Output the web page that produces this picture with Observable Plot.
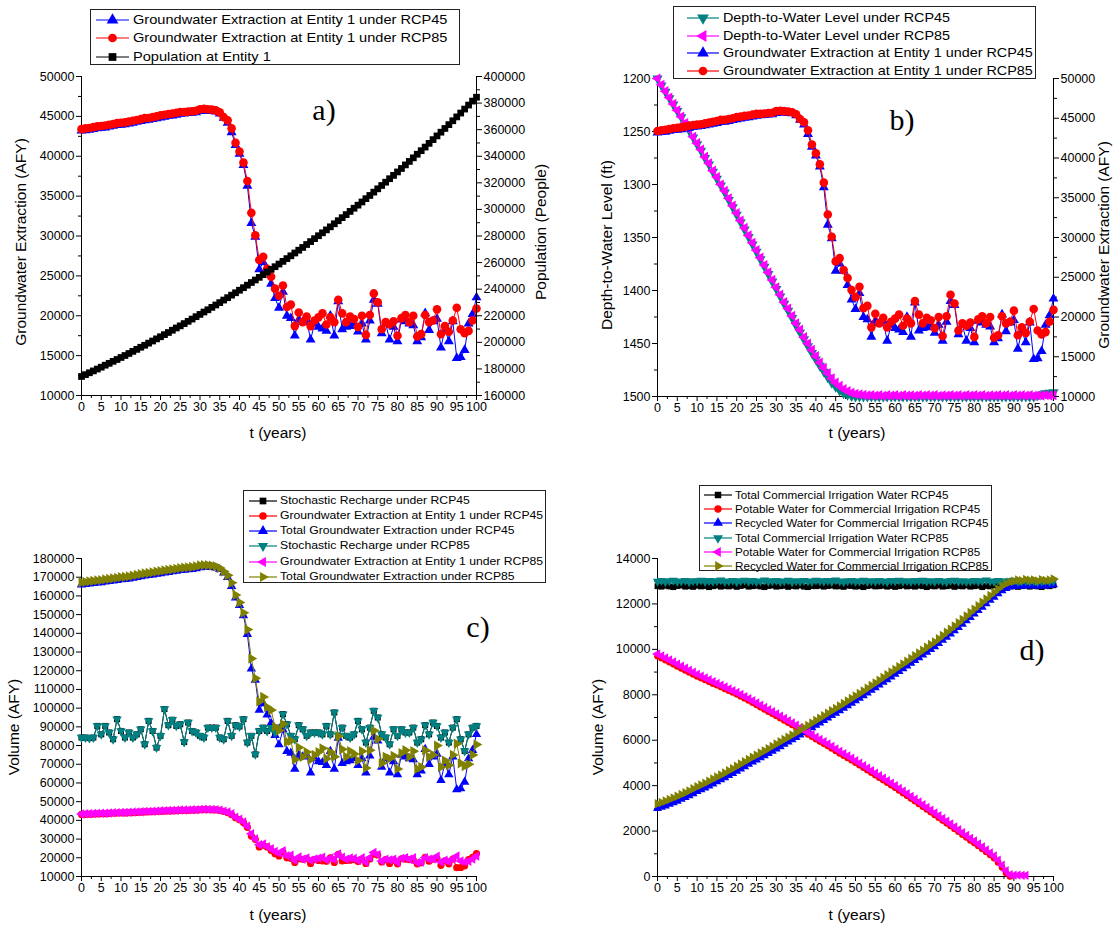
<!DOCTYPE html>
<html>
<head>
<meta charset="utf-8">
<script src="https://cdn.jsdelivr.net/npm/d3@7"></script>
<script src="https://cdn.jsdelivr.net/npm/@observablehq/plot@0.6"></script>
<style>
  html, body { margin: 0; padding: 0; background: #fff; }
  #page { position: relative; width: 1116px; height: 926px; overflow: hidden; font-family: Arial, "Liberation Sans", sans-serif; color: #000; }
  .layer { position: absolute; }
  .atitle { position: absolute; font-size: 15.5px; white-space: nowrap; transform: translate(-50%, -50%); }
  .vtitle { position: absolute; font-size: 15.5px; white-space: nowrap; transform: translate(-50%, -50%) rotate(-90deg); }
  .plabel { position: absolute; font-family: "Liberation Serif", "DejaVu Serif", serif; font-size: 30px; transform: translate(-50%, -50%); white-space: nowrap; }
  .legend { position: absolute; border: 1px solid #222; background: #fff; box-sizing: border-box; }
  .legtext { position: absolute; white-space: nowrap; transform-origin: 0 50%; line-height: 1; }
</style>
</head>
<body>
<div id="page"></div>
<script>
// ---------------- DATA (t = 0..100 years) ----------------
const years = d3.range(0, 101);

// Groundwater extraction at Entity 1 (AFY)
const gwEntity1RCP45 = [
  43200,43250,43300,43400,43500,43550,43600,43700,43800,43900,
  43950,44000,44100,44200,44300,44400,44500,44550,44650,44750,
  44850,44950,45050,45100,45200,45300,45350,45400,45450,45500,
  45650,45700,45700,45650,45600,45350,44800,44200,43000,41400,
  40300,38900,36300,31600,29900,25800,26700,25800,24000,22200,
  21000,23000,20000,19700,17500,19500,19200,19500,17000,19000,
  18600,18400,18100,20000,17500,21800,18300,18600,18700,19000,
  18000,19000,17000,19400,22000,21500,17800,19000,17000,18600,
  16800,19500,19300,19000,18800,16800,17300,20300,18200,19300,
  19600,16000,18300,16800,19300,14700,14800,15700,19000,20200,
  22300];
const gwEntity1RCP85 = [
  43400,43500,43550,43650,43750,43800,43850,43950,44050,44150,
  44200,44250,44350,44450,44550,44650,44800,44800,44900,45000,
  45150,45200,45300,45350,45450,45550,45550,45600,45650,45700,
  45900,45950,45900,45850,45750,45500,44900,44500,43500,41700,
  40600,39200,36900,32900,30100,27000,27400,25900,24900,23400,
  22500,23800,21100,21400,18700,20400,19200,19900,18700,19400,
  19800,20300,18900,19800,19200,22000,20300,19200,19900,19600,
  18600,20000,17600,20100,22800,21700,18300,19200,18900,19300,
  17500,19700,20100,19200,20000,17400,17700,20100,19200,19400,
  20800,17700,18700,18000,19400,21000,18300,17800,18100,19400,
  20900];

// Population at Entity 1 (people)
const population = [
  174300,175700,177100,178500,179900,181300,182800,184200,185700,187100,
  188600,190100,191600,193200,194700,196300,197800,199400,201000,202600,
  204200,205800,207400,209100,210800,212400,214100,215800,217500,219300,
  221000,222800,224500,226300,228100,229900,231800,233600,235500,237300,
  239200,241100,243000,245000,246900,248900,250900,252900,254900,256900,
  258900,260900,263000,265100,267200,269300,271400,273600,275800,278000,
  280200,282400,284600,286900,289200,291500,293800,296100,298500,300900,
  303200,305600,308100,310500,313000,315500,318000,320500,323100,325600,
  328200,330800,333500,336100,338800,341500,344200,346900,349700,352500,
  355300,358100,360900,363800,366700,369600,372500,375500,378500,381500,
  384400];

// Depth-to-water level (ft)
const depthRCP45 = [
  1200,1206.5,1212.5,1218.5,1224.5,1230.5,1236.5,1243,1249,1255.5,
  1262,1268,1275,1281,1288,1294.5,1301,1307.5,1314.5,1321.5,
  1328.5,1335.5,1342.5,1349.5,1356.5,1363.5,1370.5,1377.5,1384.5,1391.5,
  1398.5,1405.5,1412.5,1419,1426,1433,1439.5,1446,1452.5,1459,
  1465,1471,1476.5,1482,1487,1491,1494.5,1497,1498.5,1499.5,
  1500,1500,1500,1500,1500,1500,1500,1500,1500,1500,
  1500,1500,1500,1500,1500,1500,1500,1500,1500,1500,
  1500,1500,1500,1500,1500,1500,1500,1500,1500,1500,
  1500,1500,1500,1500,1500,1500,1500,1500,1500,1500,
  1500,1500,1500,1500,1500,1500,1499,1498,1497,1496.5,
  1496];
const depthRCP85 = [
  1200,1206,1212,1218,1224,1230,1236,1242,1248,1255,
  1261,1267,1274,1280,1287,1293,1300,1306,1313,1320,
  1327,1334,1341,1348,1355,1362,1369,1376,1383,1390,
  1397,1404,1411,1417,1424,1431,1437,1444,1450,1456,
  1462,1468,1473,1478,1483,1487,1490,1493,1495,1496.5,
  1497.5,1498,1498.5,1499,1498.6,1499.2,1498.8,1499.3,1498.7,1499.1,
  1498.8,1499.3,1498.7,1499.2,1498.9,1499.3,1498.7,1499.1,1498.8,1499.2,
  1498.7,1499.3,1498.9,1499.1,1498.6,1499.2,1498.8,1499.3,1498.7,1499.1,
  1498.8,1499.2,1498.7,1499.3,1498.9,1499.1,1498.7,1499.2,1498.8,1499.3,
  1498.7,1499.1,1498.8,1499.2,1498.7,1499.3,1498.9,1499.1,1498.7,1499.2,
  1498.8];

// Stochastic recharge (AFY) — RCP45 and RCP85 coincide
const rechargeRCP45 = [
  84300,84300,84000,84300,90500,86000,90500,87000,83400,94100,
  87800,84300,87000,84300,86000,88700,80700,93200,87800,78900,
  85200,99500,90900,93800,90500,91400,81900,92300,87800,87000,
  85200,84300,89600,89600,89600,84300,83400,93200,85200,90900,
  90200,94100,81600,85200,75300,87800,89600,87800,89600,87000,
  89600,96800,91400,85200,83400,90900,88700,85200,87000,87000,
  87000,86000,90500,86000,97700,85200,89600,85200,84300,86000,
  93200,88700,81600,89600,98600,95000,86000,84300,80700,88700,
  85200,88700,87000,87000,89600,81600,83400,90900,86000,92300,
  90500,84300,87000,81600,89600,94100,83400,77100,86000,89600,
  90500];
const rechargeRCP85 = rechargeRCP45.slice();

// Total groundwater extraction (AFY)
const totalGwRCP45 = [
  166000,166200,166500,166800,167000,167200,167500,167800,168100,168400,
  168700,168900,169200,169600,170000,170400,170800,171000,171300,171700,
  172000,172400,172700,173000,173300,173700,173900,174100,174300,174600,
  175200,175400,175500,175300,175000,174200,172300,170000,165200,159000,
  155000,149500,139500,121000,115000,99000,102500,96500,92000,85500,
  80500,88500,77000,76000,67500,75000,74000,75000,65500,73000,
  71500,71000,69500,77000,67500,84000,70500,71500,72000,73000,
  69500,73000,65500,74500,84500,82500,68500,73000,65500,71500,
  64500,75000,74000,73000,72500,64500,66500,78000,70000,74000,
  75500,61500,70500,64500,74000,56500,57000,60500,73000,77500,
  86000];
const totalGwRCP85 = [
  167200,167500,167800,168100,168300,168500,168800,169100,169400,169700,
  170000,170200,170500,170900,171300,171700,172100,172300,172600,173000,
  173300,173600,173900,174200,174500,174900,175100,175300,175500,175800,
  176300,176500,176400,176200,175800,174900,173000,171000,167000,160500,
  156500,151000,142000,126500,116000,103500,106000,100500,99000,90000,
  88000,91500,82000,82500,72500,79000,74000,76500,72500,75000,
  76500,78500,73000,76500,74000,85000,78000,74000,77000,75500,
  72000,77000,68000,77500,88000,83500,70500,74000,73000,74500,
  67500,76000,77500,74000,77000,67500,68500,77500,74000,75000,
  80000,68500,72000,69500,75000,81000,70500,69000,70000,75000,
  80500];

// Commercial irrigation (AFY)
const irrTotalRCP45 = [
  12780,12760,12800,12770,12740,12790,12810,12760,12780,12750,
  12800,12770,12790,12740,12780,12810,12760,12790,12770,12800,
  12750,12790,12820,12760,12780,12800,12770,12740,12790,12810,
  12760,12780,12800,12750,12790,12770,12810,12760,12740,12790,
  12780,12800,12760,12790,12810,12770,12780,12750,12800,12790,
  12760,12780,12740,12790,12810,12770,12780,12800,12760,12790,
  12750,12780,12810,12770,12790,12760,12800,12780,12740,12790,
  12770,12810,12760,12780,12800,12750,12790,12770,12810,12760,
  12780,12800,12740,12790,12770,12810,12760,12780,12800,12770,
  12790,12750,12780,12810,12760,12790,12770,12740,12800,12780,
  12820];
const irrTotalRCP85 = [
  12990,13020,12970,13010,13040,12980,13000,13030,12970,13010,
  13000,13040,12980,13020,12990,13010,13050,12980,13000,13030,
  12970,13010,13040,12990,13020,12980,13000,13050,12990,13010,
  13030,12980,13000,13040,12970,13010,12990,13020,13000,12980,
  13040,13010,12990,13020,12980,13050,13000,12970,13010,13030,
  12990,13000,13040,12980,13010,12990,13030,13000,12970,13020,
  13000,13040,12990,13010,12980,13020,13000,13040,12990,13010,
  12980,13030,13000,12970,13020,13040,12990,13010,12980,13000,
  13030,12990,13010,13050,13000,12980,13020,13000,12990,13010,
  13040,12980,13000,13020,12990,13010,12970,13000,13030,12990,
  13010];
const potableRCP45 = [
  9700,9610,9520,9430,9340,9250,9160,9070,8980,8890,
  8810,8730,8650,8570,8490,8420,8340,8260,8180,8100,
  8020,7930,7840,7750,7650,7550,7450,7350,7250,7160,
  7070,6970,6870,6770,6670,6570,6460,6350,6250,6150,
  6040,5940,5840,5740,5640,5530,5420,5320,5220,5120,
  5010,4900,4790,4680,4570,4460,4350,4240,4130,4020,
  3910,3790,3670,3550,3430,3310,3190,3070,2950,2830,
  2710,2590,2460,2340,2220,2090,1970,1840,1720,1590,
  1470,1340,1210,1080,950,800,620,400,150,0];
const potableRCP85 = [
  9800,9710,9620,9530,9440,9350,9260,9170,9080,8990,
  8900,8820,8740,8660,8580,8500,8420,8340,8260,8180,
  8100,8010,7920,7830,7740,7640,7540,7440,7340,7250,
  7160,7060,6960,6860,6760,6660,6550,6440,6340,6240,
  6130,6030,5930,5830,5730,5620,5510,5410,5310,5210,
  5100,4990,4880,4770,4660,4550,4440,4330,4220,4110,
  4000,3880,3760,3640,3520,3400,3280,3160,3040,2920,
  2800,2680,2550,2430,2310,2180,2060,1930,1810,1680,
  1560,1430,1300,1170,1040,900,720,500,250,80,
  60,60,50,50];
const recycledRCP45 = [
  3000,3050,3110,3180,3250,3320,3400,3480,3560,3650,
  3740,3820,3900,3990,4080,4170,4260,4350,4450,4540,
  4640,4740,4840,4940,5040,5130,5230,5320,5420,5520,
  5620,5720,5820,5920,6020,6120,6230,6340,6440,6550,
  6660,6760,6870,6980,7090,7190,7300,7410,7520,7630,
  7740,7850,7960,8080,8200,8310,8430,8550,8670,8790,
  8910,9030,9150,9270,9390,9510,9630,9750,9880,10000,
  10120,10260,10400,10540,10680,10820,10960,11110,11260,11410,
  11560,11710,11860,12010,12160,12300,12450,12580,12680,12750,
  12780,12800,12780,12820,12790,12810,12780,12830,12790,12810,
  12850];
const recycledRCP85 = [
  3200,3260,3320,3390,3460,3530,3610,3690,3770,3860,
  3950,4030,4110,4200,4290,4380,4470,4560,4660,4750,
  4850,4950,5050,5150,5250,5340,5440,5530,5630,5730,
  5830,5930,6030,6130,6230,6330,6440,6550,6650,6760,
  6870,6970,7080,7190,7300,7400,7510,7620,7730,7840,
  7950,8060,8170,8290,8410,8520,8640,8760,8880,9000,
  9120,9240,9360,9480,9600,9720,9840,9960,10090,10210,
  10330,10470,10610,10750,10890,11030,11170,11320,11470,11620,
  11770,11920,12070,12220,12370,12510,12660,12790,12890,12960,
  13000,13050,13020,13080,13040,13060,13010,13070,13030,13050,
  13100];

// Axis ticks
const xTicks = d3.range(0, 101, 5);
const xMinor = d3.range(2.5, 100, 5);
const aLeftTicks = d3.range(10000, 50001, 5000);
const aRightTicks = d3.range(160000, 400001, 20000);
const bLeftTicks = d3.range(1200, 1501, 50);
const bRightTicks = d3.range(10000, 50001, 5000);
const cLeftTicks = d3.range(10000, 180001, 10000);
const dLeftTicks = d3.range(0, 14001, 2000);

// Legend labels
const legendA = ["Groundwater Extraction at Entity 1 under RCP45", "Groundwater Extraction at Entity 1 under RCP85", "Population at Entity 1"];
const legendB = ["Depth-to-Water Level under RCP45", "Depth-to-Water Level under RCP85", "Groundwater Extraction at Entity 1 under RCP45", "Groundwater Extraction at Entity 1 under RCP85"];
const legendC = ["Stochastic Recharge under RCP45", "Groundwater Extraction at Entity 1 under RCP45", "Total Groundwater Extraction under RCP45", "Stochastic Recharge under RCP85", "Groundwater Extraction at Entity 1 under RCP85", "Total Groundwater Extraction under RCP85"];
const legendD = ["Total Commercial Irrigation Water RCP45", "Potable Water for Commercial Irrigation RCP45", "Recycled Water for Commercial Irrigation RCP45", "Total Commercial Irrigation Water RCP85", "Potable Water for Commercial Irrigation RCP85", "Recycled Water for Commercial Irrigation RCP85"];

// ---------------- DRAWING ----------------
const C = { black: "#000000", red: "#ff0000", blue: "#0000ff", teal: "#008080", magenta: "#ff00ff", olive: "#808000" };
const SHAPE = {
  square: { symbol: "square", rotate: 0, d3: d3.symbolSquare },
  circle: { symbol: "circle", rotate: 0, d3: d3.symbolCircle },
  up: { symbol: "triangle", rotate: 0, d3: d3.symbolTriangle },
  down: { symbol: "triangle", rotate: 180, d3: d3.symbolTriangle },
  left: { symbol: "triangle", rotate: -90, d3: d3.symbolTriangle },
  right: { symbol: "triangle", rotate: 90, d3: d3.symbolTriangle }
};
const page = document.getElementById("page");
const fmt = d => String(d);

function pts(arr) { return arr.map((v, i) => ({ t: years[i], v })); }

function series(arr, color, shape, r) {
  const d = pts(arr);
  const s = SHAPE[shape];
  return [
    Plot.line(d, { x: "t", y: "v", stroke: color, strokeWidth: 1 }),
    Plot.dot(d, { x: "t", y: "v", symbol: s.symbol, rotate: s.rotate, fill: color, stroke: "none", r })
  ];
}

function layer(o) {
  const chart = Plot.plot({
    width: o.w, height: o.h,
    marginLeft: o.ml, marginRight: o.mr, marginTop: o.mt, marginBottom: o.mb,
    x: { domain: [0, 100], axis: o.overlay ? null : undefined },
    y: { domain: o.ydomain, reverse: !!o.reverse },
    style: { background: "transparent", overflow: "visible", fontFamily: "Arial, 'Liberation Sans', sans-serif", fontSize: "12.5px", color: "#000" },
    marks: o.marks
  });
  chart.classList.add("layer");
  chart.style.left = o.x + "px";
  chart.style.top = o.y + "px";
  page.appendChild(chart);
}

function xAxisMarks() {
  return [
    Plot.axisX({ ticks: xTicks, tickSize: 5, tickPadding: 2, tickFormat: fmt, label: null, fontSize: 12.5 }),
    Plot.axisX({ ticks: xMinor, tickSize: 3, tickFormat: () => "", label: null })
  ];
}
function yAxisMarks(anchor, ticks, minor) {
  const m = [Plot.axisY({ anchor, ticks, tickSize: 5, tickPadding: 2, tickFormat: fmt, label: null, fontSize: 12.5 })];
  if (minor) m.push(Plot.axisY({ anchor, ticks: minor, tickSize: 3, tickFormat: () => "", label: null }));
  return m;
}
function mids(ticks) { return ticks.slice(0, -1).map((v, i) => (v + ticks[i + 1]) / 2); }

function text(cls, txt, x, y, extra) {
  const el = document.createElement("div");
  el.className = cls; el.textContent = txt;
  el.style.left = x + "px"; el.style.top = y + "px";
  if (extra) Object.assign(el.style, extra);
  page.appendChild(el);
}

function legend(o) {
  const box = document.createElement("div");
  box.className = "legend";
  Object.assign(box.style, { left: o.x + "px", top: o.y + "px", width: o.w + "px", height: o.h + "px" });
  o.labels.forEach((lab, i) => {
    const cy = o.first + i * o.rowH;
    const it = o.items[i];
    const svg = d3.create("svg").attr("width", o.lineW).attr("height", 16)
      .style("position", "absolute").style("left", o.lineX + "px").style("top", (cy - 8) + "px");
    svg.append("line").attr("x1", 0).attr("x2", o.lineW).attr("y1", 8).attr("y2", 8)
      .attr("stroke", it.color).attr("stroke-width", 1.2);
    svg.append("path").attr("d", d3.symbol(SHAPE[it.shape].d3, o.symSize)())
      .attr("transform", `translate(${o.lineW / 2},8) rotate(${SHAPE[it.shape].rotate})`)
      .attr("fill", it.color);
    box.appendChild(svg.node());
    const t = document.createElement("div");
    t.className = "legtext"; t.textContent = lab;
    Object.assign(t.style, { left: o.textX + "px", top: cy + "px", fontSize: o.fs + "px", transform: `translateY(-50%) scaleX(${o.sx})` });
    box.appendChild(t);
  });
  page.appendChild(box);
}

// ---- Panel a ----
const PA = { x: 0, y: 60, w: 560, h: 380, ml: 81, mr: 84, mt: 16, mb: 45 };
layer({ ...PA, ydomain: [10000, 50000], marks: [
  ...xAxisMarks(), ...yAxisMarks("left", aLeftTicks, mids(aLeftTicks)),
  Plot.ruleX([0]), Plot.ruleY([10000]),
  ...series(gwEntity1RCP45, C.blue, "up", 3.7),
  ...series(gwEntity1RCP85, C.red, "circle", 4.3)
]});
layer({ ...PA, overlay: true, ydomain: [160000, 400000], marks: [
  ...yAxisMarks("right", aRightTicks, mids(aRightTicks)),
  Plot.ruleX([100]),
  ...series(population, C.black, "square", 3.8)
]});
legend({ x: 90, y: 9, w: 370, h: 56, first: 10, rowH: 18.3, lineX: 5, lineW: 33, textX: 42, fs: 13.5, sx: 1.08, symSize: 60,
  labels: legendA, items: [{ color: C.blue, shape: "up" }, { color: C.red, shape: "circle" }, { color: C.black, shape: "square" }] });
text("plabel", "a)", 324, 110);
text("atitle", "t (years)", 278, 433);
text("vtitle", "Groundwater Extraction (AFY)", 21, 242);
text("vtitle", "Population (People)", 541, 232);

// ---- Panel b ----
const PB = { x: 560, y: 60, w: 556, h: 380, ml: 97, mr: 63, mt: 18, mb: 44 };
layer({ ...PB, ydomain: [1200, 1500], reverse: true, marks: [
  ...xAxisMarks(), ...yAxisMarks("left", bLeftTicks, mids(bLeftTicks)),
  Plot.ruleX([0]), Plot.ruleY([1500]),
  ...series(depthRCP45, C.teal, "down", 3.8),
  ...series(depthRCP85, C.magenta, "left", 3.8)
]});
layer({ ...PB, overlay: true, ydomain: [10000, 50000], marks: [
  ...yAxisMarks("right", bRightTicks, mids(bRightTicks)),
  Plot.ruleX([100]),
  ...series(gwEntity1RCP45, C.blue, "up", 3.7),
  ...series(gwEntity1RCP85, C.red, "circle", 4.3)
]});
legend({ x: 673, y: 6, w: 363, h: 73, first: 11, rowH: 17.6, lineX: 13, lineW: 32, textX: 49, fs: 13.3, sx: 1.08, symSize: 60,
  labels: legendB, items: [{ color: C.teal, shape: "down" }, { color: C.magenta, shape: "left" }, { color: C.blue, shape: "up" }, { color: C.red, shape: "circle" }] });
text("plabel", "b)", 902, 120);
text("atitle", "t (years)", 857, 433);
text("vtitle", "Depth-to-Water Level (ft)", 607, 245);
text("vtitle", "Groundwater Extraction (AFY)", 1104, 245);

// ---- Panel c ----
const PC = { x: 0, y: 540, w: 560, h: 380, ml: 81, mr: 84, mt: 18, mb: 44 };
layer({ ...PC, ydomain: [10000, 180000], marks: [
  ...xAxisMarks(), ...yAxisMarks("left", cLeftTicks, null),
  Plot.ruleX([0]), Plot.ruleY([10000]),
  ...series(rechargeRCP45, C.black, "square", 3.4),
  ...series(gwEntity1RCP45, C.red, "circle", 3.6),
  ...series(totalGwRCP45, C.blue, "up", 3.5),
  ...series(rechargeRCP85, C.teal, "down", 3.5),
  ...series(gwEntity1RCP85, C.magenta, "left", 3.5),
  ...series(totalGwRCP85, C.olive, "right", 3.8)
]});
legend({ x: 243, y: 490, w: 303, h: 93, first: 9.5, rowH: 15.3, lineX: 5, lineW: 28, textX: 36, fs: 11.3, sx: 1.08, symSize: 45,
  labels: legendC, items: [{ color: C.black, shape: "square" }, { color: C.red, shape: "circle" }, { color: C.blue, shape: "up" }, { color: C.teal, shape: "down" }, { color: C.magenta, shape: "left" }, { color: C.olive, shape: "right" }] });
text("plabel", "c)", 478, 627);
text("atitle", "t (years)", 278, 915);
text("vtitle", "Volume (AFY)", 14, 727);

// ---- Panel d ----
const PD = { x: 560, y: 540, w: 556, h: 380, ml: 97, mr: 63, mt: 18, mb: 44 };
layer({ ...PD, ydomain: [0, 14000], marks: [
  ...xAxisMarks(), ...yAxisMarks("left", dLeftTicks, mids(dLeftTicks)),
  Plot.ruleX([0]), Plot.ruleY([0]),
  ...series(irrTotalRCP45, C.black, "square", 3.3),
  ...series(potableRCP45, C.red, "circle", 3.3),
  ...series(recycledRCP45, C.blue, "up", 3.3),
  ...series(irrTotalRCP85, C.teal, "down", 3.4),
  ...series(potableRCP85, C.magenta, "left", 3.5),
  ...series(recycledRCP85, C.olive, "right", 3.5)
]});
legend({ x: 699, y: 485, w: 293, h: 86, first: 9, rowH: 14.2, lineX: 4, lineW: 28, textX: 35, fs: 10.8, sx: 1.08, symSize: 42,
  labels: legendD, items: [{ color: C.black, shape: "square" }, { color: C.red, shape: "circle" }, { color: C.blue, shape: "up" }, { color: C.teal, shape: "down" }, { color: C.magenta, shape: "left" }, { color: C.olive, shape: "right" }] });
text("plabel", "d)", 1032, 650);
text("atitle", "t (years)", 857, 915);
text("vtitle", "Volume (AFY)", 598, 727);
</script>
</body>
</html>
